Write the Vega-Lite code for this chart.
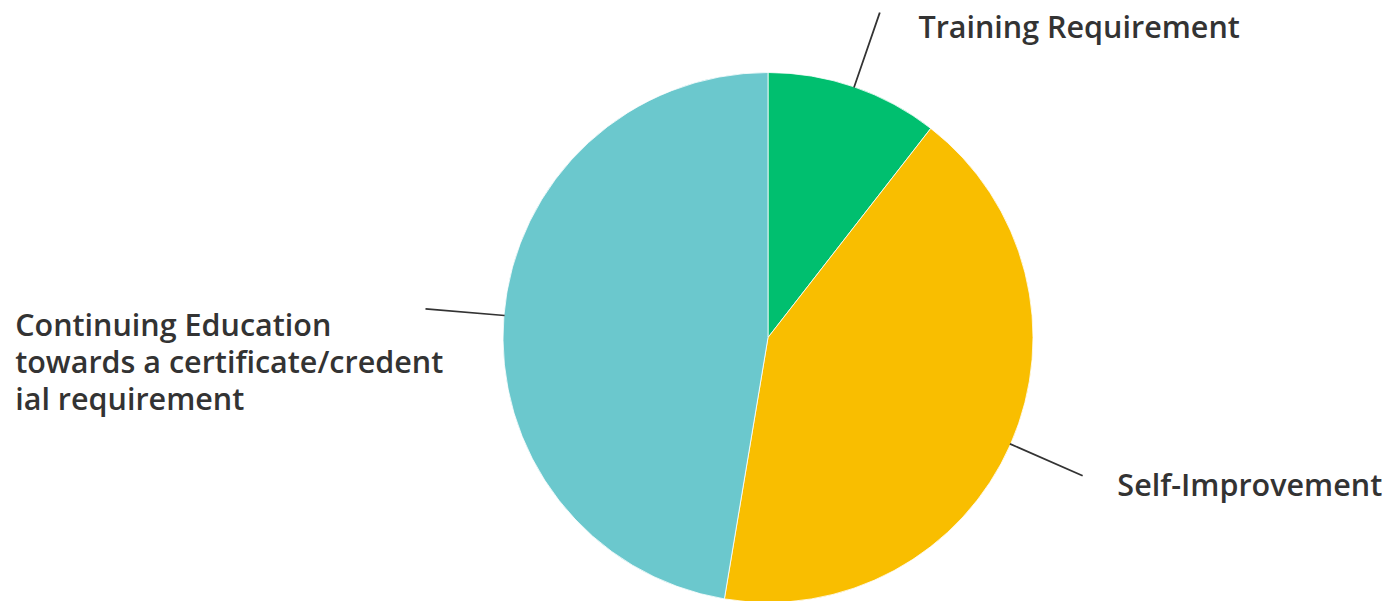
{
  "$schema": "https://vega.github.io/schema/vega-lite/v6.json",
  "autosize": {"type": "none"},
  "width": 1388,
  "height": 601,
  "padding": {"left": 74, "top": 37, "right": 0, "bottom": 0},
  "background": "white",
  "view": {"stroke": null},
  "data": {
    "values": [
      {"label": "Training Requirement", "value": 2, "order": 1},
      {"label": "Self-Improvement", "value": 8, "order": 2},
      {"label": "Continuing Education\ntowards a certificate/credent\nial requirement", "value": 9, "order": 3}
    ]
  },
  "transform": [
    {"stack": "value", "groupby": [], "sort": [{"field": "order", "order": "ascending"}], "as": ["v0", "v1"]},
    {"calculate": "(datum.v0 + datum.v1) / 2", "as": "m"},
    {"calculate": "datum.m + 0.004", "as": "m2"}
  ],
  "layer": [
    {
      "mark": {"type": "arc", "outerRadius": 265, "stroke": "white", "strokeWidth": 0.8},
      "encoding": {
        "theta": {"field": "v0", "type": "quantitative", "scale": {"domain": [0, 19]}},
        "theta2": {"field": "v1"},
        "color": {
          "field": "label",
          "type": "nominal",
          "legend": null,
          "scale": {
            "domain": ["Training Requirement", "Self-Improvement", "Continuing Education\ntowards a certificate/credent\nial requirement"],
            "range": ["#00BF6F", "#F9BE00", "#6BC8CD"]
          }
        }
      }
    },
    {
      "mark": {"type": "arc", "radius": 265, "radius2": 343, "stroke": "#333333", "strokeWidth": 1.4, "fill": null},
      "encoding": {
        "theta": {"field": "m", "type": "quantitative"},
        "theta2": {"field": "m2"}
      }
    },
    {
      "transform": [{"filter": "datum.order == 1"}],
      "mark": {"type": "text", "radius": 340, "align": "left", "baseline": "alphabetic", "dx": 40, "dy": 22, "font": "Open Sans", "fontWeight": 600, "fontSize": 30.5, "fill": "#333333"},
      "encoding": {
        "theta": {"field": "m", "type": "quantitative"},
        "text": {"field": "label"}
      }
    },
    {
      "transform": [{"filter": "datum.order == 2"}],
      "mark": {"type": "text", "radius": 340, "align": "left", "baseline": "alphabetic", "dx": 38, "dy": 22, "font": "Open Sans", "fontWeight": 600, "fontSize": 30.5, "fill": "#333333"},
      "encoding": {
        "theta": {"field": "m", "type": "quantitative"},
        "text": {"field": "label"}
      }
    },
    {
      "transform": [{"filter": "datum.order == 3"}],
      "mark": {"type": "text", "radius": 350, "align": "left", "baseline": "alphabetic", "dx": -404, "dy": 27, "lineBreak": "\n", "lineHeight": 37, "font": "Open Sans", "fontWeight": 600, "fontSize": 30.5, "fill": "#333333"},
      "encoding": {
        "theta": {"field": "m", "type": "quantitative"},
        "text": {"field": "label"}
      }
    }
  ]
}
